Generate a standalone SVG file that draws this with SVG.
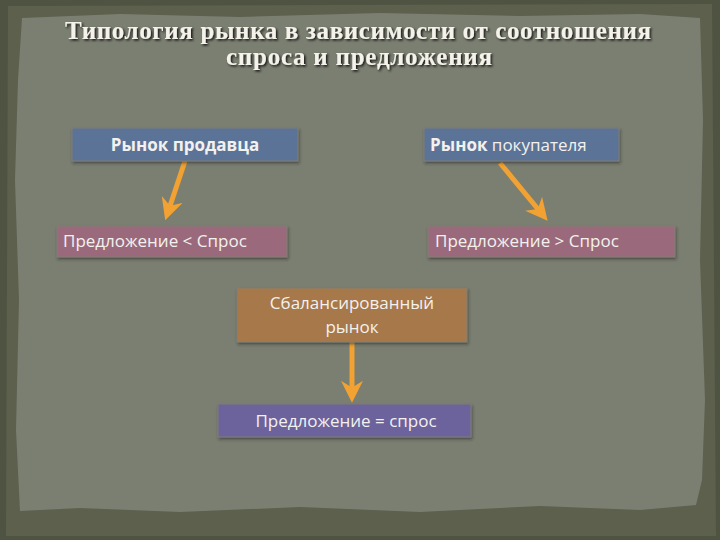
<svg xmlns="http://www.w3.org/2000/svg" width="720" height="540" viewBox="0 0 720 540">
<defs>
<marker id="ah" viewBox="0 0 10 10" refX="6" refY="5" markerWidth="4.4" markerHeight="4.4" orient="auto">
<path d="M0,0 L10,5 L0,10 L3,5 Z" fill="#f2a232"/>
</marker>
<filter id="sh" x="-5%" y="-20%" width="110%" height="140%">
<feDropShadow dx="1.5" dy="1.5" stdDeviation="0.8" flood-color="#000" flood-opacity="0.85"/>
</filter>
<filter id="bs" x="-5%" y="-20%" width="110%" height="150%">
<feDropShadow dx="1" dy="2" stdDeviation="1.5" flood-color="#222" flood-opacity="0.5"/>
</filter>
</defs>
<style>
.t{font-family:"Liberation Serif",serif;font-weight:bold;font-size:25px;fill:#f4f2ea;text-anchor:middle}
.b{font-family:"Open Sans","DejaVu Sans",sans-serif;font-size:17px;fill:#f3f1ee}
.c{stroke:#f2a232;stroke-width:5;fill:none;marker-end:url(#ah)}
.box{stroke:#7e7f74;stroke-width:1}
</style>
<rect width="720" height="540" fill="#4f5341"/>
<path d="M8,6 L712,4 L716,536 L6,536 Z" fill="#5c604d"/>
<path d="M22,18 L120,14 L240,17 L380,13 L520,16 L640,14 L700,18 L703,120 L700,260 L705,400 L702,480 L696,505 L640,510 L540,506 L420,512 L300,507 L180,512 L80,508 L20,511 L16,430 L19,300 L15,180 L18,80 Z" fill="#7b7f71"/>
<g id="title">
<text class="t" x="358" y="39" filter="url(#sh)" textLength="586" lengthAdjust="spacing">Типология рынка в зависимости от соотношения</text>
<text class="t" x="359" y="65" filter="url(#sh)" textLength="266" lengthAdjust="spacing">спроса и предложения</text>
</g>
<g id="connectors">
<line class="c" x1="185" y1="161" x2="168" y2="212"/>
<line class="c" x1="500" y1="163" x2="542" y2="214"/>
<line class="c" x1="352" y1="342" x2="352" y2="394"/>
</g>
<g id="seller">
<rect class="box" x="72" y="128" width="226" height="33" fill="#5c7398" filter="url(#bs)"/>
<text class="b" x="185" y="151" text-anchor="middle" font-weight="bold" font-size="16.5">Рынок продавца</text>
</g>
<g id="buyer">
<rect class="box" x="424" y="128" width="195" height="33" fill="#5c7398" filter="url(#bs)"/>
<text class="b" x="430" y="151" font-size="16"><tspan font-weight="bold">Рынок</tspan> покупателя</text>
</g>
<g id="less">
<rect class="box" x="57" y="226" width="230" height="31" fill="#9a6a7b" filter="url(#bs)"/>
<text class="b" x="63" y="247" font-size="17.5">Предложение &lt; Спрос</text>
</g>
<g id="more">
<rect class="box" x="428" y="226" width="247" height="31" fill="#9a6a7b" filter="url(#bs)"/>
<text class="b" x="435" y="247" font-size="17.5">Предложение &gt; Спрос</text>
</g>
<g id="balanced">
<rect class="box" x="237" y="288" width="230" height="54" fill="#a7784a" filter="url(#bs)"/>
<text class="b" x="352" y="309" text-anchor="middle">Сбалансированный</text>
<text class="b" x="352" y="333" text-anchor="middle">рынок</text>
</g>
<g id="equal">
<rect class="box" x="218" y="404" width="253" height="33" fill="#6c629c" stroke="#45404f" stroke-width="1.5" filter="url(#bs)"/>
<text class="b" x="346" y="427" text-anchor="middle">Предложение = спрос</text>
</g>
</svg>
